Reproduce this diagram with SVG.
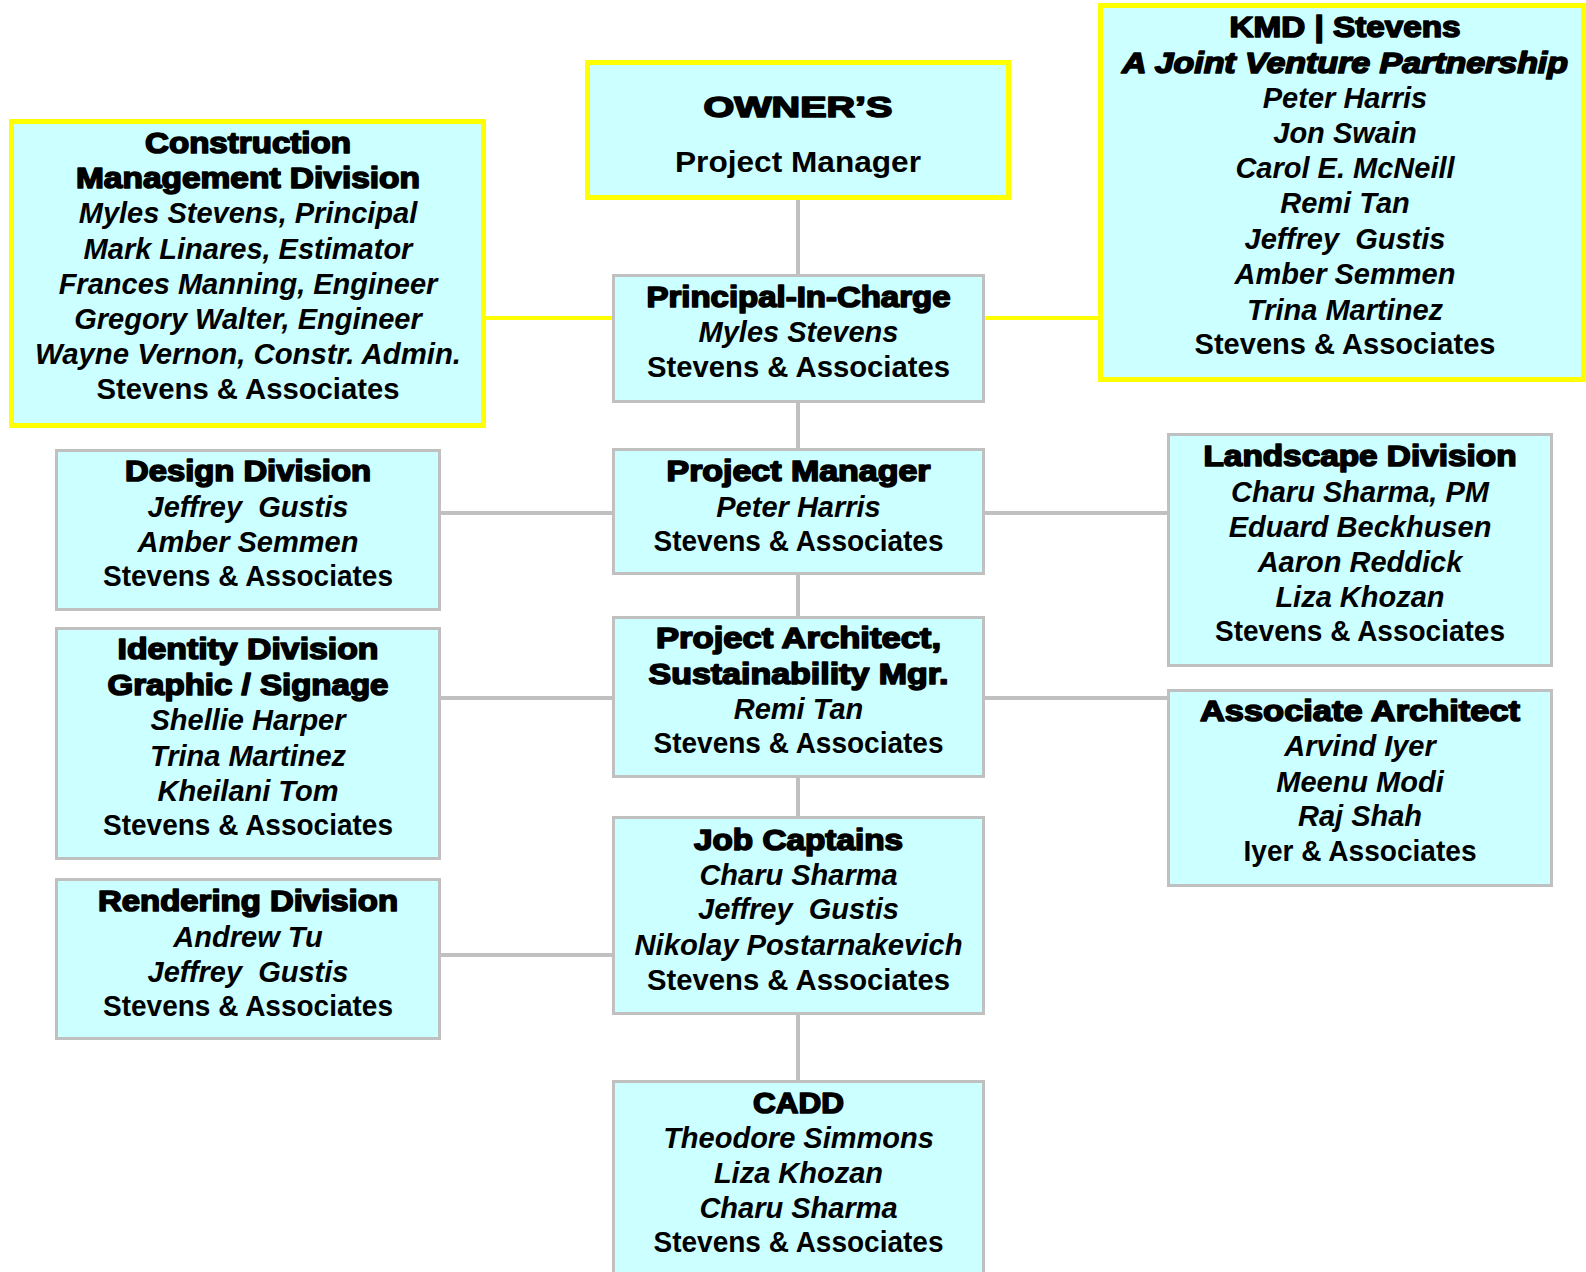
<svg xmlns="http://www.w3.org/2000/svg" width="1586" height="1272" viewBox="0 0 1586 1272">
<style>
.box{fill:#CCFFFF;stroke:#C0C0C0;stroke-width:3}
.ybox{fill:#CCFFFF;stroke:#FFFF00;stroke-width:5}
.gl{stroke:#C0C0C0;stroke-width:4;fill:none}
.yl{stroke:#FFFF00;stroke-width:4;fill:none}
text{font-family:"Liberation Sans",Arial,sans-serif;font-size:29px;font-weight:bold;text-anchor:middle;fill:#000}
.h{stroke:#000;stroke-width:1.6px;stroke-linejoin:round}
.i{font-style:italic}
</style>
<rect width="1586" height="1272" fill="#FFFFFF"/>
<g id="connectors">
<line class="gl" x1="798" y1="200" x2="798" y2="1082"/>
<line class="yl" x1="486" y1="318" x2="1098" y2="318"/>
<line class="gl" x1="441" y1="513" x2="1167" y2="513"/>
<line class="gl" x1="441" y1="698" x2="1167" y2="698"/>
<line class="gl" x1="441" y1="955" x2="612" y2="955"/>
</g>
<g id="owner">
<rect class="ybox" x="587.5" y="62.5" width="421" height="135"/>
<text class="h" x="798" y="117" font-size="44" textLength="189" lengthAdjust="spacingAndGlyphs">OWNER’S</text>
<text x="798" y="172" font-size="30" textLength="246" lengthAdjust="spacingAndGlyphs" style="font-weight:600">Project Manager</text>
</g>
<g id="kmd">
<rect class="ybox" x="1100.5" y="5.5" width="483" height="374"/>
<text class="h" x="1345" y="37" textLength="231" lengthAdjust="spacingAndGlyphs">KMD | Stevens</text>
<text class="h i" x="1345" y="73" textLength="446" lengthAdjust="spacingAndGlyphs">A Joint Venture Partnership</text>
<text class="i" x="1345" y="108">Peter Harris</text>
<text class="i" x="1345" y="143">Jon Swain</text>
<text class="i" x="1345" y="178">Carol E. McNeill</text>
<text class="i" x="1345" y="213">Remi Tan</text>
<text class="i" x="1345" y="249" xml:space="preserve">Jeffrey  Gustis</text>
<text class="i" x="1345" y="284">Amber Semmen</text>
<text class="i" x="1345" y="320">Trina Martinez</text>
<text x="1345" y="354" textLength="301" lengthAdjust="spacingAndGlyphs">Stevens &amp; Associates</text>
</g>
<g id="construction">
<rect class="ybox" x="11.5" y="121.5" width="472" height="304"/>
<text class="h" x="248" y="153" textLength="206" lengthAdjust="spacingAndGlyphs">Construction</text>
<text class="h" x="248" y="188" textLength="344" lengthAdjust="spacingAndGlyphs">Management Division</text>
<text class="i" x="248" y="223">Myles Stevens, Principal</text>
<text class="i" x="248" y="259">Mark Linares, Estimator</text>
<text class="i" x="248" y="294">Frances Manning, Engineer</text>
<text class="i" x="248" y="329">Gregory Walter, Engineer</text>
<text class="i" x="248" y="364" textLength="426" lengthAdjust="spacingAndGlyphs">Wayne Vernon, Constr. Admin.</text>
<text x="248" y="399" textLength="303" lengthAdjust="spacingAndGlyphs">Stevens &amp; Associates</text>
</g>
<g id="principal">
<rect class="box" x="613.5" y="275.5" width="370" height="126"/>
<text class="h" x="798.5" y="307" textLength="304" lengthAdjust="spacingAndGlyphs">Principal-In-Charge</text>
<text class="i" x="798.5" y="342">Myles Stevens</text>
<text x="798.5" y="377" textLength="303" lengthAdjust="spacingAndGlyphs">Stevens &amp; Associates</text>
</g>
<g id="design">
<rect class="box" x="56.5" y="450.5" width="383" height="159"/>
<text class="h" x="248" y="481" textLength="246" lengthAdjust="spacingAndGlyphs">Design Division</text>
<text class="i" x="248" y="517" xml:space="preserve">Jeffrey  Gustis</text>
<text class="i" x="248" y="552">Amber Semmen</text>
<text x="248" y="586" textLength="290" lengthAdjust="spacingAndGlyphs">Stevens &amp; Associates</text>
</g>
<g id="project-manager">
<rect class="box" x="613.5" y="449.5" width="370" height="124"/>
<text class="h" x="798.5" y="481" textLength="264" lengthAdjust="spacingAndGlyphs">Project Manager</text>
<text class="i" x="798.5" y="517">Peter Harris</text>
<text x="798.5" y="551" textLength="290" lengthAdjust="spacingAndGlyphs">Stevens &amp; Associates</text>
</g>
<g id="landscape">
<rect class="box" x="1168.5" y="434.5" width="383" height="231"/>
<text class="h" x="1360" y="466" textLength="313" lengthAdjust="spacingAndGlyphs">Landscape Division</text>
<text class="i" x="1360" y="502">Charu Sharma, PM</text>
<text class="i" x="1360" y="537">Eduard Beckhusen</text>
<text class="i" x="1360" y="572">Aaron Reddick</text>
<text class="i" x="1360" y="607">Liza Khozan</text>
<text x="1360" y="641" textLength="290" lengthAdjust="spacingAndGlyphs">Stevens &amp; Associates</text>
</g>
<g id="project-architect">
<rect class="box" x="613.5" y="617.5" width="370" height="159"/>
<text class="h" x="798.5" y="648" textLength="285" lengthAdjust="spacingAndGlyphs">Project Architect,</text>
<text class="h" x="798.5" y="684" textLength="300" lengthAdjust="spacingAndGlyphs">Sustainability Mgr.</text>
<text class="i" x="798.5" y="719">Remi Tan</text>
<text x="798.5" y="753" textLength="290" lengthAdjust="spacingAndGlyphs">Stevens &amp; Associates</text>
</g>
<g id="identity">
<rect class="box" x="56.5" y="628.5" width="383" height="230"/>
<text class="h" x="248" y="659" textLength="261" lengthAdjust="spacingAndGlyphs">Identity Division</text>
<text class="h" x="248" y="695" textLength="281" lengthAdjust="spacingAndGlyphs">Graphic / Signage</text>
<text class="i" x="248" y="730">Shellie Harper</text>
<text class="i" x="248" y="766">Trina Martinez</text>
<text class="i" x="248" y="801">Kheilani Tom</text>
<text x="248" y="835" textLength="290" lengthAdjust="spacingAndGlyphs">Stevens &amp; Associates</text>
</g>
<g id="associate">
<rect class="box" x="1168.5" y="690.5" width="383" height="195"/>
<text class="h" x="1360" y="721" textLength="320" lengthAdjust="spacingAndGlyphs">Associate Architect</text>
<text class="i" x="1360" y="756">Arvind Iyer</text>
<text class="i" x="1360" y="792">Meenu Modi</text>
<text class="i" x="1360" y="826">Raj Shah</text>
<text x="1360" y="861" textLength="233" lengthAdjust="spacingAndGlyphs">Iyer &amp; Associates</text>
</g>
<g id="job-captains">
<rect class="box" x="613.5" y="817.5" width="370" height="196"/>
<text class="h" x="798.5" y="850" textLength="209" lengthAdjust="spacingAndGlyphs">Job Captains</text>
<text class="i" x="798.5" y="885">Charu Sharma</text>
<text class="i" x="798.5" y="919" xml:space="preserve">Jeffrey  Gustis</text>
<text class="i" x="798.5" y="955" textLength="328" lengthAdjust="spacingAndGlyphs">Nikolay Postarnakevich</text>
<text x="798.5" y="990" textLength="303" lengthAdjust="spacingAndGlyphs">Stevens &amp; Associates</text>
</g>
<g id="rendering">
<rect class="box" x="56.5" y="879.5" width="383" height="159"/>
<text class="h" x="248" y="911" textLength="300" lengthAdjust="spacingAndGlyphs">Rendering Division</text>
<text class="i" x="248" y="947">Andrew Tu</text>
<text class="i" x="248" y="982" xml:space="preserve">Jeffrey  Gustis</text>
<text x="248" y="1016" textLength="290" lengthAdjust="spacingAndGlyphs">Stevens &amp; Associates</text>
</g>
<g id="cadd">
<rect class="box" x="613.5" y="1081.5" width="370" height="200"/>
<text class="h" x="798.5" y="1113" textLength="91" lengthAdjust="spacingAndGlyphs">CADD</text>
<text class="i" x="798.5" y="1148">Theodore Simmons</text>
<text class="i" x="798.5" y="1183">Liza Khozan</text>
<text class="i" x="798.5" y="1218">Charu Sharma</text>
<text x="798.5" y="1252" textLength="290" lengthAdjust="spacingAndGlyphs">Stevens &amp; Associates</text>
</g>
</svg>
